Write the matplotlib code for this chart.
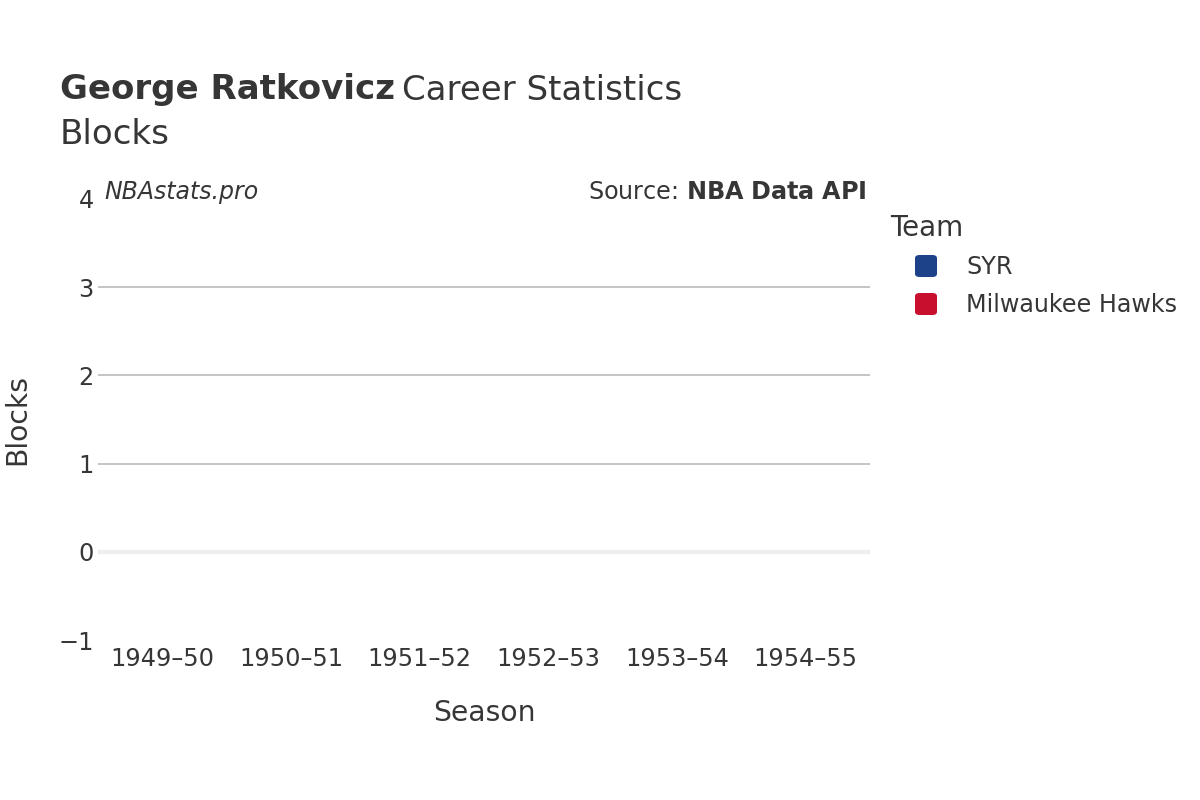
import matplotlib
matplotlib.use("Agg")
import matplotlib.pyplot as plt
from matplotlib.patches import FancyBboxPatch

seasons = ["1949–50", "1950–51", "1951–52", "1952–53", "1953–54", "1954–55"]
teams = ["SYR", "SYR", "Milwaukee Hawks", "Milwaukee Hawks", "Milwaukee Hawks", "Milwaukee Hawks"]
blocks = [0, 0, 0, 0, 0, 0]
legend_teams = ["SYR", "Milwaukee Hawks"]
team_colors = {"SYR": "#1d428a", "Milwaukee Hawks": "#c8102e"}
yticks = [-1, 0, 1, 2, 3, 4]

TXT = "#363636"
plt.rcParams['font.family'] = ['DejaVu Sans']

fig = plt.figure(figsize=(12, 8), dpi=100)
ax = fig.add_axes([98/1200, 1-640/800, (870-98)/1200, (640-199)/800])

x = list(range(len(seasons)))
ax.bar(x, blocks, width=0.8, color=[team_colors[t] for t in teams])

ax.set_xlim(-0.5, len(seasons) - 0.5)
ax.set_ylim(-1, 4)
ax.set_xticks(x)
ax.set_xticklabels(seasons)
ax.set_yticks(yticks)
ax.set_yticklabels([("\u22121" if v == -1 else str(v)) for v in yticks])
ax.tick_params(axis='both', length=0, labelsize=17.3, colors=TXT)
ax.tick_params(axis='x', pad=5)
ax.tick_params(axis='y', pad=3)
for s in ax.spines.values():
    s.set_visible(False)
for v in [1, 2, 3]:
    ax.axhline(v, color="#c4c4c4", lw=1.4, zorder=0)
ax.axhline(0, color="#eeeeee", lw=3, zorder=0)

fig.text(484/1200, 1-713/800, "Season", fontsize=20.3, color=TXT, va="center", ha="center")
fig.text(17/1200, 1-419/800, "Blocks", fontsize=20.3, color=TXT, va="center", ha="center", rotation=90)

# Titles
fig.text(60/1200, 1-90/800, "George Ratkovicz", fontsize=24.5, fontweight="bold", color=TXT, va="center", ha="left")
fig.canvas.draw()
r = fig.canvas.get_renderer()
bb = fig.texts[-1].get_window_extent(r)
fig.text(bb.x1/1200 + 0.006, 1-90/800, "Career Statistics", fontsize=24.5, color=TXT, va="center", ha="left")
fig.text(60/1200, 1-135/800, "Blocks", fontsize=24.5, color=TXT, va="center", ha="left")

fig.text(104/1200, 1-192/800, "NBAstats.pro", fontsize=17, style="italic", color=TXT, va="center", ha="left")
fig.text(866/1200, 1-192/800, "Source: $\\bf{NBA\\ Data\\ API}$", fontsize=17.2, color=TXT, va="center", ha="right")

# Legend
fig.text(890/1200, 1-228/800, "Team", fontsize=20, color=TXT, va="center", ha="left")
for i, tm in enumerate(legend_teams):
    yc = 266 + i*38
    p = FancyBboxPatch((915/1200, 1-(yc+11)/800), 22/1200, 22/800,
                       boxstyle="round,pad=0,rounding_size=0.004",
                       transform=fig.transFigure, facecolor=team_colors[tm], edgecolor="none")
    fig.patches.append(p)
    fig.text(966/1200, 1-(yc+1)/800, tm, fontsize=17.2, color=TXT, va="center", ha="left")

fig.savefig("out.png", dpi=100)
